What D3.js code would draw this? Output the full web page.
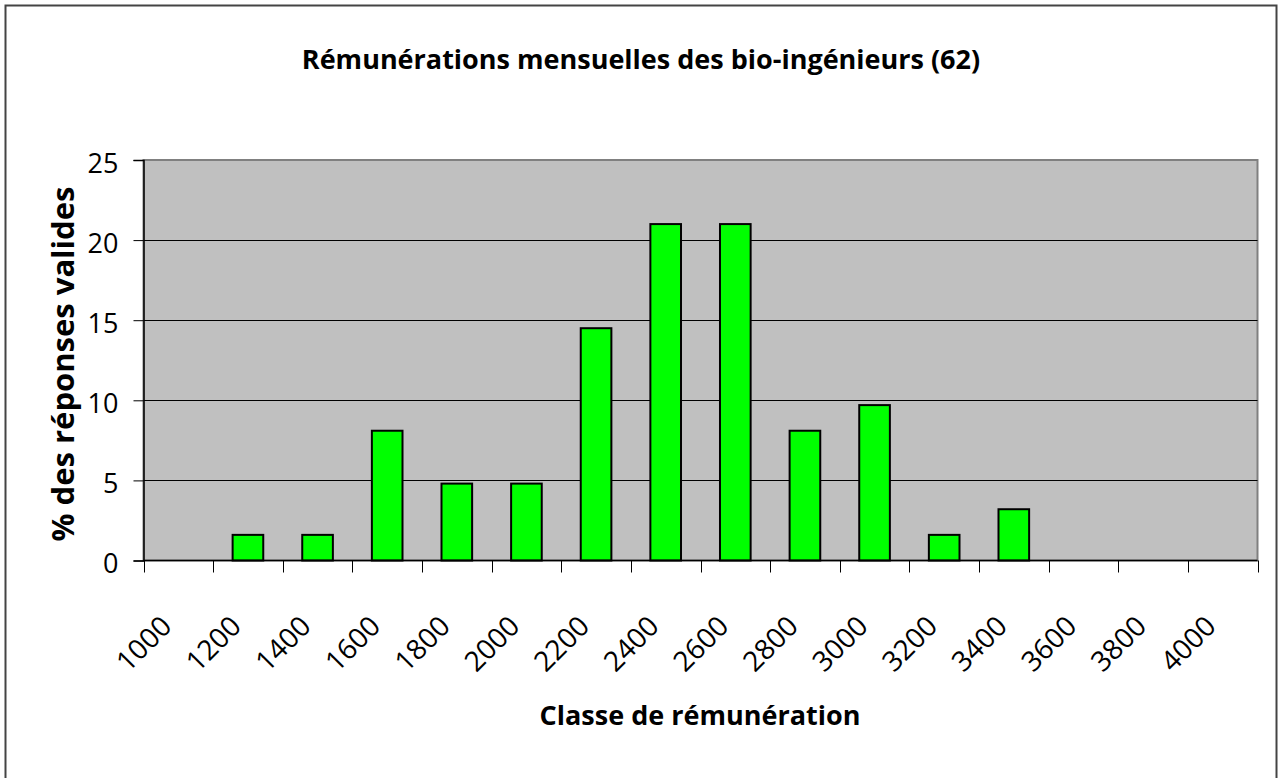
<!DOCTYPE html>
<html>
<head>
<meta charset="utf-8">
<script src="https://cdn.jsdelivr.net/npm/d3@7"></script>
<style>
  body { margin: 0; background: #fff; }
  text { font-family: "Open Sans", sans-serif; fill: #000; }
</style>
</head>
<body>
<div class="graph"></div>
<script>
var classes = ['1000', '1200', '1400', '1600', '1800', '2000', '2200', '2400', '2600', '2800', '3000', '3200', '3400', '3600', '3800', '4000'];
var pourcentages = [0, 1.6, 1.6, 8.1, 4.8, 4.8, 14.5, 21, 21, 8.1, 9.7, 1.6, 3.2, 0, 0, 0];
var yTicks = [0, 5, 10, 15, 20, 25];

var size = { width: 1278, height: 778 };
var plot = { left: 143.5, top: 160, right: 1257.5, bottom: 560.5 };

var svg = d3.select('.graph').append('svg')
  .attr('width', size.width)
  .attr('height', size.height);

// cadre du graphique
svg.append('rect')
  .attr('x', 5.5).attr('y', 5.5)
  .attr('width', 1271).attr('height', 800)
  .attr('fill', 'none').attr('stroke', '#444').attr('stroke-width', 2);

var xScale = d3.scaleBand().domain(classes).range([plot.left, plot.right]);
var yScale = d3.scaleLinear().domain([0, 25]).range([plot.bottom, plot.top]);

// fond de la zone de tracé
svg.append('rect')
  .attr('x', plot.left).attr('y', plot.top)
  .attr('width', plot.right - plot.left).attr('height', plot.bottom - plot.top)
  .attr('fill', '#c0c0c0').attr('stroke', '#808080').attr('stroke-width', 2);

// quadrillage
svg.append('g').selectAll('line').data(yTicks.slice(1, -1)).enter().append('line')
  .attr('x1', plot.left).attr('x2', plot.right)
  .attr('y1', function(d) { return Math.round(yScale(d)) + 0.5; })
  .attr('y2', function(d) { return Math.round(yScale(d)) + 0.5; })
  .attr('stroke', '#000').attr('stroke-width', 1);

// barres
var data = classes.map(function(c, i) { return { c: c, v: pourcentages[i] }; });
var bw = xScale.bandwidth() * 0.44;
svg.append('g').selectAll('rect')
  .data(data.filter(function(d) { return d.v > 0; }))
  .enter().append('rect')
  .attr('x', function(d) { return xScale(d.c) + (xScale.bandwidth() - bw) / 2; })
  .attr('y', function(d) { return yScale(d.v); })
  .attr('width', bw)
  .attr('height', function(d) { return yScale(0) - yScale(d.v); })
  .attr('fill', '#00ff00').attr('stroke', '#000').attr('stroke-width', 2);

// axe y
var yAxis = d3.axisLeft(yScale).tickValues(yTicks).tickSize(10).tickPadding(15);
var gy = svg.append('g').attr('transform', 'translate(' + plot.left + ',0)').call(yAxis);
gy.select('.domain').attr('stroke', '#000').attr('stroke-width', 1.5);
gy.selectAll('.tick line').attr('stroke', '#000');
gy.selectAll('.tick text').style('font-size', '27px').attr('dy', '0.46em');

// axe x
var xTickPos = classes.map(function(c) { return xScale(c); }).concat([plot.right]);
var xg = svg.append('g');
xg.append('line')
  .attr('x1', plot.left).attr('x2', plot.right)
  .attr('y1', plot.bottom).attr('y2', plot.bottom)
  .attr('stroke', '#000').attr('stroke-width', 1.5);
xg.selectAll('line.t').data(xTickPos).enter().append('line').attr('class', 't')
  .attr('x1', function(d) { return Math.round(d) + 0.5; })
  .attr('x2', function(d) { return Math.round(d) + 0.5; })
  .attr('y1', plot.bottom).attr('y2', plot.bottom + 12)
  .attr('stroke', '#000');
xg.selectAll('text').data(classes).enter().append('text')
  .attr('transform', function(d) {
    return 'translate(' + (xScale(d) + xScale.bandwidth() / 2 - 5) + ',' + 628 + ') rotate(-45)';
  })
  .attr('text-anchor', 'end')
  .style('font-size', '28px')
  .text(function(d) { return d; });

// titres
svg.append('text')
  .attr('x', 641).attr('y', 69)
  .attr('text-anchor', 'middle')
  .style('font-size', '27px').style('font-weight', 'bold')
  .text('Rémunérations mensuelles des bio-ingénieurs (62)');

svg.append('text')
  .attr('x', 700).attr('y', 725)
  .attr('text-anchor', 'middle')
  .style('font-size', '27px').style('font-weight', 'bold')
  .text('Classe de rémunération');

svg.append('text')
  .attr('transform', 'translate(74,364) rotate(-90)')
  .attr('text-anchor', 'middle')
  .style('font-size', '31px').style('font-weight', 'bold')
  .text('% des réponses valides');
</script>
</body>
</html>
